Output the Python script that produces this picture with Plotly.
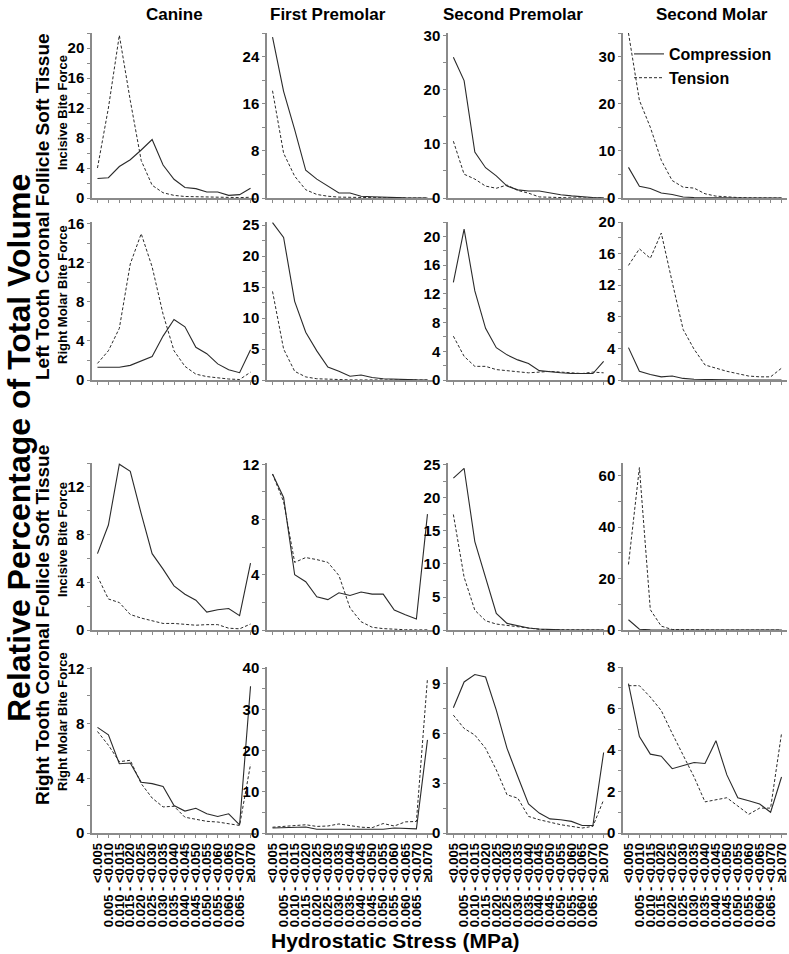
import plotly.graph_objects as go

# ---------------- data ----------------
categories = ["<0.005", "0.005 - <0.010", "0.010 - <0.015", "0.015 - <0.020", "0.020 - <0.025",
              "0.025 - <0.030", "0.030 - <0.035", "0.035 - <0.040", "0.040 - <0.045", "0.045 - <0.050",
              "0.050 - <0.055", "0.055 - <0.060", "0.060 - <0.065", "0.065 - <0.070", "≥0.070"]

teeth = ["Canine", "First Premolar", "Second Premolar", "Second Molar"]

# Left tooth, incisive bite force
left_inc_canine_comp = [2.6, 2.7, 4.2, 5.1, 6.4, 7.8, 4.4, 2.5, 1.4, 1.25, 0.8, 0.8, 0.35, 0.45, 1.3]
left_inc_canine_tens = [4.0, 12.0, 21.7, 13.0, 5.0, 1.7, 0.7, 0.35, 0.2, 0.15, 0.1, 0.1, 0.05, 0.05, 0.1]
left_inc_fp_comp = [27.3, 18.1, 11.6, 4.7, 3.2, 2.0, 0.85, 0.85, 0.3, 0.2, 0.1, 0.05, 0.02, 0.01, 0.01]
left_inc_fp_tens = [18.2, 7.6, 3.7, 1.4, 0.6, 0.3, 0.15, 0.1, 0.05, 0.02, 0.01, 0.01, 0.0, 0.0, 0.0]
left_inc_sp_comp = [26.0, 21.7, 8.5, 5.6, 4.1, 2.2, 1.5, 1.3, 1.3, 0.9, 0.6, 0.4, 0.2, 0.1, 0.05]
left_inc_sp_tens = [10.5, 4.4, 3.5, 2.2, 1.8, 2.4, 1.4, 0.9, 0.2, 0.1, 0.05, 0.02, 0.01, 0.0, 0.0]
left_inc_sm_comp = [6.5, 2.5, 2.0, 1.05, 0.75, 0.2, 0.1, 0.05, 0.02, 0.01, 0.0, 0.0, 0.0, 0.0, 0.0]
left_inc_sm_tens = [35.0, 20.7, 15.0, 8.0, 3.7, 2.3, 2.1, 0.9, 0.4, 0.2, 0.1, 0.05, 0.02, 0.01, 0.0]

# Left tooth, right molar bite force
left_mol_canine_comp = [1.3, 1.3, 1.3, 1.5, 1.95, 2.4, 4.5, 6.2, 5.45, 3.35, 2.7, 1.65, 1.05, 0.75, 3.1]
left_mol_canine_tens = [1.7, 3.0, 5.3, 11.9, 15.0, 11.6, 6.75, 3.0, 1.4, 0.6, 0.35, 0.2, 0.1, 0.05, 0.8]
left_mol_fp_comp = [25.4, 23.0, 12.7, 7.7, 4.7, 2.1, 1.4, 0.6, 0.8, 0.4, 0.2, 0.1, 0.05, 0.02, 0.01]
left_mol_fp_tens = [14.3, 5.0, 1.4, 0.5, 0.2, 0.1, 0.05, 0.02, 0.01, 0.0, 0.0, 0.0, 0.0, 0.0, 0.0]
left_mol_sp_comp = [13.6, 21.0, 12.4, 7.2, 4.5, 3.5, 2.8, 2.3, 1.3, 1.1, 1.0, 0.9, 0.9, 0.9, 2.6]
left_mol_sp_tens = [6.1, 3.3, 1.9, 1.9, 1.45, 1.3, 1.1, 1.0, 1.1, 1.2, 1.1, 1.0, 0.9, 1.1, 1.0]
left_mol_sm_comp = [4.1, 1.1, 0.7, 0.4, 0.5, 0.2, 0.1, 0.05, 0.02, 0.01, 0.0, 0.0, 0.0, 0.0, 0.0]
left_mol_sm_tens = [14.5, 16.6, 15.4, 18.6, 12.4, 6.4, 3.9, 1.9, 1.5, 1.1, 0.8, 0.5, 0.4, 0.4, 1.5]

# Right tooth, incisive bite force
right_inc_canine_comp = [6.4, 8.8, 13.9, 13.3, 9.75, 6.4, 5.1, 3.7, 3.0, 2.5, 1.5, 1.7, 1.8, 1.2, 5.6]
right_inc_canine_tens = [4.5, 2.6, 2.3, 1.3, 1.0, 0.8, 0.55, 0.55, 0.45, 0.4, 0.45, 0.45, 0.15, 0.1, 0.5]
right_inc_fp_comp = [11.3, 9.6, 4.0, 3.5, 2.4, 2.2, 2.7, 2.5, 2.75, 2.6, 2.6, 1.45, 1.1, 0.8, 8.4]
right_inc_fp_tens = [11.3, 9.3, 4.9, 5.25, 5.1, 4.9, 3.95, 1.6, 0.6, 0.2, 0.1, 0.05, 0.02, 0.01, 0.01]
right_inc_sp_comp = [23.0, 24.5, 13.4, 7.9, 2.5, 1.0, 0.6, 0.3, 0.15, 0.05, 0.02, 0.01, 0.0, 0.0, 0.0]
right_inc_sp_tens = [17.5, 8.0, 3.0, 1.4, 0.9, 0.7, 0.5, 0.2, 0.1, 0.05, 0.02, 0.01, 0.0, 0.0, 0.0]
right_inc_sm_comp = [4.0, 0.3, 0.1, 0.05, 0.0, 0.0, 0.0, 0.0, 0.0, 0.0, 0.0, 0.0, 0.0, 0.0, 0.0]
right_inc_sm_tens = [25.5, 63.2, 7.9, 1.5, 0.2, 0.1, 0.0, 0.0, 0.0, 0.0, 0.0, 0.0, 0.0, 0.0, 0.0]

# Right tooth, right molar bite force
right_mol_canine_comp = [7.7, 7.15, 5.05, 5.1, 3.7, 3.6, 3.4, 2.0, 1.6, 1.8, 1.4, 1.2, 1.4, 0.6, 10.7]
right_mol_canine_tens = [7.4, 6.4, 5.2, 5.3, 3.6, 2.55, 1.9, 1.95, 1.15, 1.0, 0.85, 0.8, 0.7, 0.55, 5.0]
right_mol_fp_comp = [1.2, 1.3, 1.4, 1.45, 0.9, 0.9, 0.9, 1.0, 1.0, 1.0, 0.9, 1.2, 1.1, 1.0, 22.6]
right_mol_fp_tens = [1.4, 1.6, 1.7, 2.0, 1.6, 1.7, 2.2, 1.8, 1.4, 1.3, 2.3, 1.7, 2.7, 2.8, 37.5]
right_mol_sp_comp = [7.55, 9.1, 9.55, 9.4, 7.4, 5.1, 3.4, 1.75, 1.2, 0.85, 0.8, 0.7, 0.45, 0.45, 4.85]
right_mol_sp_tens = [7.1, 6.3, 5.9, 5.1, 3.8, 2.3, 2.1, 1.0, 0.8, 0.65, 0.5, 0.4, 0.3, 0.4, 2.0]
right_mol_sm_comp = [7.2, 4.65, 3.8, 3.7, 3.1, 3.25, 3.4, 3.35, 4.45, 2.8, 1.7, 1.55, 1.4, 1.0, 2.7]
right_mol_sm_tens = [7.1, 7.1, 6.55, 5.9, 4.8, 3.75, 2.7, 1.5, 1.6, 1.7, 1.3, 0.9, 1.2, 1.2, 4.8]

panels = [
    [(left_inc_canine_comp, left_inc_canine_tens), (left_inc_fp_comp, left_inc_fp_tens),
     (left_inc_sp_comp, left_inc_sp_tens), (left_inc_sm_comp, left_inc_sm_tens)],
    [(left_mol_canine_comp, left_mol_canine_tens), (left_mol_fp_comp, left_mol_fp_tens),
     (left_mol_sp_comp, left_mol_sp_tens), (left_mol_sm_comp, left_mol_sm_tens)],
    [(right_inc_canine_comp, right_inc_canine_tens), (right_inc_fp_comp, right_inc_fp_tens),
     (right_inc_sp_comp, right_inc_sp_tens), (right_inc_sm_comp, right_inc_sm_tens)],
    [(right_mol_canine_comp, right_mol_canine_tens), (right_mol_fp_comp, right_mol_fp_tens),
     (right_mol_sp_comp, right_mol_sp_tens), (right_mol_sm_comp, right_mol_sm_tens)],
]

# y-axis ranges and tick steps (range top, major step)
y_axes = [
    [(22, 4), (28, 8), (30.5, 10), (35, 10)],
    [(16.2, 4), (25.5, 5), (22, 4), (20, 4)],
    [(14, 4), (12.1, 4), (25.3, 5), (65, 20)],
    [(12.1, 4), (40.3, 10), (10, 3), (8, 2)],
]

# ---------------- layout geometry ----------------
W, H = 789, 954


def fx(px):
    return px / W


def fy(py):
    return 1 - py / H


col_px = [(92, 256), (267, 433), (448, 609), (623, 787)]
row_px = [(33, 198), (222, 380), (463, 630), (667, 833)]

FONT = "Liberation Sans, Arial, sans-serif"
AXC = "#8a8a8a"
LINEC = "#2a2a2a"

fig = go.Figure()
layout = {}
for r in range(4):
    for c in range(4):
        k = r * 4 + c + 1
        xs = "" if k == 1 else str(k)
        comp, tens = panels[r][c]
        fig.add_trace(go.Scatter(x=categories, y=comp, mode="lines", name="Compression",
                                 line=dict(color=LINEC, width=1.1), showlegend=(k == 1),
                                 xaxis="x" + xs, yaxis="y" + xs))
        fig.add_trace(go.Scatter(x=categories, y=tens, mode="lines", name="Tension",
                                 line=dict(color=LINEC, width=1, dash="3px,2px"), showlegend=(k == 1),
                                 xaxis="x" + xs, yaxis="y" + xs))
        x0, x1 = col_px[c]
        y0, y1 = row_px[r]
        top, step = y_axes[r][c]
        layout["xaxis" + xs] = dict(
            domain=[fx(x0), min(fx(x1), 1.0)], anchor="y" + xs, type="category", automargin=False,
            range=[-0.5, 14.5], tickmode="array", tickvals=categories, ticktext=categories,
            showticklabels=(r == 3), tickangle=-90,
            tickfont=dict(family=FONT, size=13, color="black", weight="bold"),
            showline=True, linecolor=AXC, linewidth=1.5, ticks="outside", ticklen=3,
            tickcolor=AXC, showgrid=False, zeroline=False, fixedrange=True)
        layout["yaxis" + xs] = dict(
            domain=[fy(y1), fy(y0)], anchor="x" + xs, range=[0, top], automargin=False,
            tick0=0, dtick=step, showline=True, linecolor=AXC, linewidth=1.5,
            ticks="outside", ticklen=3, tickcolor=AXC,
            minor=dict(dtick=step / 2, ticks="outside", ticklen=3, tickcolor=AXC),
            tickfont=dict(family=FONT, size=15, color="black", weight="bold"),
            showgrid=False, zeroline=False, fixedrange=True)

ann = []
col_title_x = [174, 328, 513, 712]
for c, t in enumerate(teeth):
    ann.append(dict(text=t, x=fx(col_title_x[c]), y=fy(15), xref="paper", yref="paper",
                    xanchor="center", yanchor="middle", showarrow=False,
                    font=dict(family=FONT, size=17, color="black", weight="bold")))
ann.append(dict(text="Hydrostatic Stress (MPa)", x=fx(396), y=fy(940), xref="paper", yref="paper",
                xanchor="center", yanchor="middle", showarrow=False,
                font=dict(family=FONT, size=21, color="black", weight="bold")))
ann.append(dict(text="Relative Percentage of Total Volume", x=fx(19), y=fy(448), xref="paper",
                yref="paper", textangle=-90, xanchor="center", yanchor="middle", showarrow=False,
                font=dict(family=FONT, size=32, color="black", weight="bold")))
ann.append(dict(text="Left Tooth Coronal Follicle Soft Tissue", x=fx(42), y=fy(207), xref="paper",
                yref="paper", textangle=-90, xanchor="center", yanchor="middle", showarrow=False,
                font=dict(family=FONT, size=19, color="black", weight="bold")))
ann.append(dict(text="Right Tooth Coronal Follicle Soft Tissue", x=fx(42), y=fy(625), xref="paper",
                yref="paper", textangle=-90, xanchor="center", yanchor="middle", showarrow=False,
                font=dict(family=FONT, size=19, color="black", weight="bold")))
row_lab = ["Incisive Bite Force", "Right Molar Bite Force", "Incisive Bite Force", "Right Molar Bite Force"]
row_lab_y = [113, 295, 540, 722]
for r in range(4):
    ann.append(dict(text=row_lab[r], x=fx(62), y=fy(row_lab_y[r]), xref="paper", yref="paper",
                    textangle=-90, xanchor="center", yanchor="middle", showarrow=False,
                    font=dict(family=FONT, size=13, color="black", weight="bold")))

layout.update(dict(
    width=W, height=H, margin=dict(l=0, r=0, t=0, b=0, autoexpand=False),
    paper_bgcolor="white", plot_bgcolor="white", annotations=ann,
    showlegend=True,
    legend=dict(x=fx(629), y=fy(37), xanchor="left", yanchor="top", bgcolor="rgba(0,0,0,0)",
                font=dict(family=FONT, size=16, color="black", weight="bold"),
                itemwidth=30, tracegroupgap=0),
))
fig.update_layout(**layout)
# remove the default 8px page margin so the figure fills the window exactly
fig.write_html("out.html", config={"displayModeBar": False},
               post_script="document.body.style.margin='0';")
